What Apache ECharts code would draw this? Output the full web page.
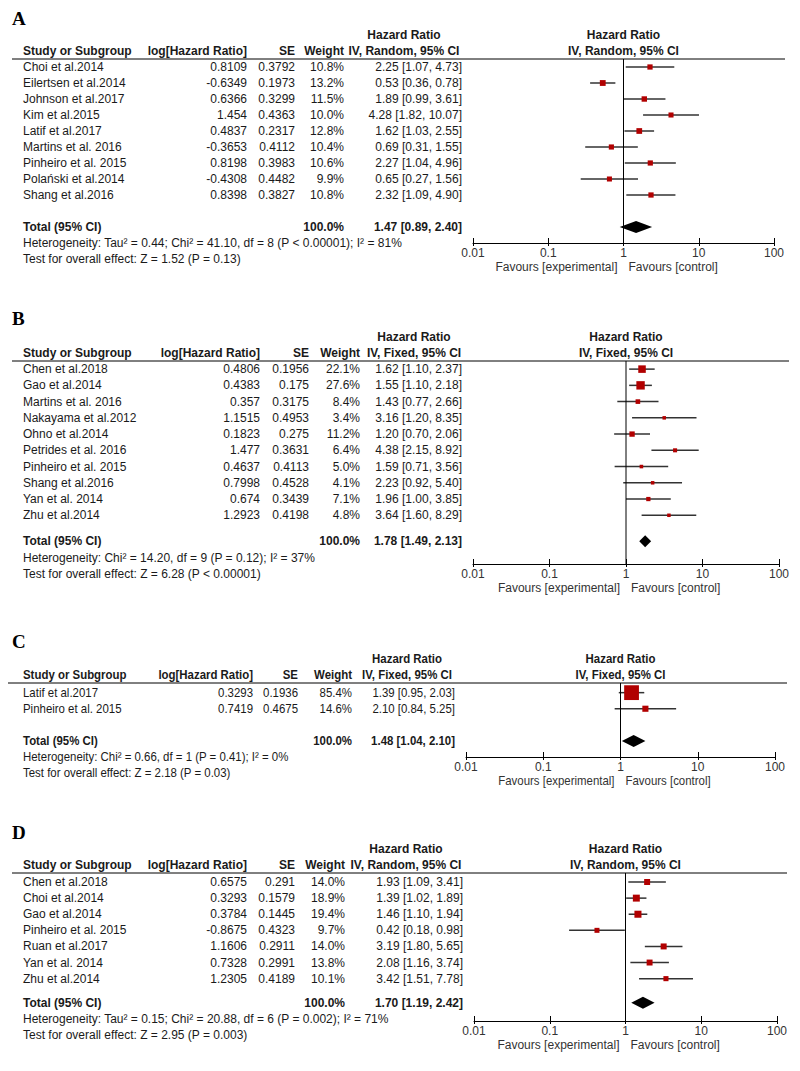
<!DOCTYPE html>
<html>
<head>
<meta charset="utf-8">
<script src="https://cdn.jsdelivr.net/npm/echarts@6/dist/echarts.min.js"></script>
<style>
  html, body { margin: 0; padding: 0; background: #fff; }
  #main { width: 800px; height: 1071px; }
</style>
</head>
<body>
<div id="main"></div>
<script>
// ---- panel A : IV, Random ----
var studiesA = ['Choi et al.2014', 'Eilertsen et al.2014', 'Johnson et al.2017', 'Kim et al.2015', 'Latif et al.2017',
  'Martins et al. 2016', 'Pinheiro et al. 2015', 'Polański et al.2014', 'Shang et al.2016'];
var logHrA = [0.8109, -0.6349, 0.6366, 1.454, 0.4837, -0.3653, 0.8198, -0.4308, 0.8398];
var seA = [0.3792, 0.1973, 0.3299, 0.4363, 0.2317, 0.4112, 0.3983, 0.4482, 0.3827];
var weightA = [10.8, 13.2, 11.5, 10.0, 12.8, 10.4, 10.6, 9.9, 10.8];
var hrA = [2.25, 0.53, 1.89, 4.28, 1.62, 0.69, 2.27, 0.65, 2.32];
var loA = [1.07, 0.36, 0.99, 1.82, 1.03, 0.31, 1.04, 0.27, 1.09];
var hiA = [4.73, 0.78, 3.61, 10.07, 2.55, 1.55, 4.96, 1.56, 4.90];
var totalA = [1.47, 0.89, 2.40];
var hetA = 'Heterogeneity: Tau² = 0.44; Chi² = 41.10, df = 8 (P < 0.00001); I² = 81%';
var testA = 'Test for overall effect: Z = 1.52 (P = 0.13)';

// ---- panel B : IV, Fixed ----
var studiesB = ['Chen et al.2018', 'Gao et al.2014', 'Martins et al. 2016', 'Nakayama et al.2012', 'Ohno et al.2014',
  'Petrides et al. 2016', 'Pinheiro et al. 2015', 'Shang et al.2016', 'Yan et al. 2014', 'Zhu et al.2014'];
var logHrB = [0.4806, 0.4383, 0.357, 1.1515, 0.1823, 1.477, 0.4637, 0.7998, 0.674, 1.2923];
var seB = [0.1956, 0.175, 0.3175, 0.4953, 0.275, 0.3631, 0.4113, 0.4528, 0.3439, 0.4198];
var weightB = [22.1, 27.6, 8.4, 3.4, 11.2, 6.4, 5.0, 4.1, 7.1, 4.8];
var hrB = [1.62, 1.55, 1.43, 3.16, 1.20, 4.38, 1.59, 2.23, 1.96, 3.64];
var loB = [1.10, 1.10, 0.77, 1.20, 0.70, 2.15, 0.71, 0.92, 1.00, 1.60];
var hiB = [2.37, 2.18, 2.66, 8.35, 2.06, 8.92, 3.56, 5.40, 3.85, 8.29];
var totalB = [1.78, 1.49, 2.13];
var hetB = 'Heterogeneity: Chi² = 14.20, df = 9 (P = 0.12); I² = 37%';
var testB = 'Test for overall effect: Z = 6.28 (P < 0.00001)';

// ---- panel C : IV, Fixed ----
var studiesC = ['Latif et al.2017', 'Pinheiro et al. 2015'];
var logHrC = [0.3293, 0.7419];
var seC = [0.1936, 0.4675];
var weightC = [85.4, 14.6];
var hrC = [1.39, 2.10];
var loC = [0.95, 0.84];
var hiC = [2.03, 5.25];
var totalC = [1.48, 1.04, 2.10];
var hetC = 'Heterogeneity: Chi² = 0.66, df = 1 (P = 0.41); I² = 0%';
var testC = 'Test for overall effect: Z = 2.18 (P = 0.03)';

// ---- panel D : IV, Random ----
var studiesD = ['Chen et al.2018', 'Choi et al.2014', 'Gao et al.2014', 'Pinheiro et al. 2015', 'Ruan et al.2017',
  'Yan et al. 2014', 'Zhu et al.2014'];
var logHrD = [0.6575, 0.3293, 0.3784, -0.8675, 1.1606, 0.7328, 1.2305];
var seD = [0.291, 0.1579, 0.1445, 0.4323, 0.2911, 0.2991, 0.4189];
var weightD = [14.0, 18.9, 19.4, 9.7, 14.0, 13.8, 10.1];
var hrD = [1.93, 1.39, 1.46, 0.42, 3.19, 2.08, 3.42];
var loD = [1.09, 1.02, 1.10, 0.18, 1.80, 1.16, 1.51];
var hiD = [3.41, 1.89, 1.94, 0.98, 5.65, 3.74, 7.78];
var totalD = [1.70, 1.19, 2.42];
var hetD = 'Heterogeneity: Tau² = 0.15; Chi² = 20.88, df = 6 (P = 0.002); I² = 71%';
var testD = 'Test for overall effect: Z = 2.95 (P = 0.003)';

var xTickLabels = ['0.01', '0.1', '1', '10', '100'];

// layout of each panel (pixels / row units)
var panels = [
  {label: 'A', labelY: 18, method: 'IV, Random, 95% CI', top: 59, bottom: 243, left: 473, right: 774, lineL: 12, lineR: 785,
    logX: 247, seX: 295, wX: 344, hrX: 462, headX: 404, ymin: -0.5, ymax: 11, totalRow: 10, sx: 1, size: 12,
    studies: studiesA, logHr: logHrA, se: seA, weight: weightA, hr: hrA, lo: loA, hi: hiA, total: totalA, het: hetA, test: testA},
  {label: 'B', labelY: 318, method: 'IV, Fixed, 95% CI', top: 361, bottom: 564, left: 473, right: 779, lineL: 12, lineR: 789,
    logX: 260, seX: 309, wX: 360, hrX: 462, headX: 414, ymin: -0.5, ymax: 12, totalRow: 10.6, sx: 1, size: 12,
    studies: studiesB, logHr: logHrB, se: seB, weight: weightB, hr: hrB, lo: loB, hi: hiB, total: totalB, het: hetB, test: testB},
  {label: 'C', labelY: 641, method: 'IV, Fixed, 95% CI', top: 683, bottom: 757, left: 466, right: 775, lineL: 8, lineR: 787,
    logX: 253, seX: 298, wX: 352, hrX: 455, headX: 407, ymin: -0.6, ymax: 4, totalRow: 3, sx: 0.88, size: 13,
    studies: studiesC, logHr: logHrC, se: seC, weight: weightC, hr: hrC, lo: loC, hi: hiC, total: totalC, het: hetC, test: testC},
  {label: 'D', labelY: 832, method: 'IV, Random, 95% CI', top: 873, bottom: 1021, left: 474, right: 777, lineL: 12, lineR: 787,
    logX: 247, seX: 295, wX: 345, hrX: 463, headX: 406, ymin: -0.56, ymax: 8.63, totalRow: 7.5, sx: 1, size: 12,
    studies: studiesD, logHr: logHrD, se: seD, weight: weightD, hr: hrD, lo: loD, hi: hiD, total: totalD, het: hetD, test: testD}
];

var H = 1071;
var chart = echarts.init(document.getElementById('main'), null, {renderer: 'svg', width: 800, height: H});

function whiskerItem(params, api) {
  var a = api.coord([api.value(0), api.value(2)]);
  var b = api.coord([api.value(1), api.value(2)]);
  return {type: 'line', shape: {x1: a[0], y1: a[1], x2: b[0], y2: b[1]}, style: {stroke: '#333', lineWidth: 1.5}};
}

function diamondItem(params, api) {
  var l = api.coord([api.value(0), api.value(3)]);
  var m = api.coord([api.value(1), api.value(3)]);
  var r = api.coord([api.value(2), api.value(3)]);
  var h = 6;
  return {type: 'polygon', shape: {points: [[l[0], l[1]], [m[0], m[1] - h], [r[0], r[1]], [m[0], m[1] + h]]},
    style: {fill: '#000'}};
}

var grids = [], xAxes = [], yAxes = [], series = [];
panels.forEach(function (p, k) {
  grids.push({left: p.left, width: p.right - p.left, top: p.top, height: p.bottom - p.top});
  // labelled axis, upward half of the ticks
  xAxes.push({
    type: 'log', logBase: 10, min: 0.01, max: 100, splitNumber: 4, gridIndex: k, position: 'bottom',
    axisLine: {onZero: false, lineStyle: {color: '#000', width: 1}},
    axisTick: {inside: true, length: 5, lineStyle: {color: '#000', width: 1}},
    splitLine: {show: false},
    axisLabel: {
      margin: 4, color: '#333', fontFamily: 'Liberation Sans', fontSize: 12,
      formatter: function (v) {
        var i = Math.round(Math.log(v) / Math.LN10) + 2;
        return xTickLabels[i];
      }
    }
  });
  // same scale again, for the short downward half of the ticks
  xAxes.push({
    type: 'log', logBase: 10, min: 0.01, max: 100, splitNumber: 4, gridIndex: k, position: 'bottom', offset: 0,
    axisLine: {show: false, onZero: false}, axisLabel: {show: false}, splitLine: {show: false},
    axisTick: {inside: false, length: 3, lineStyle: {color: '#000', width: 1}}
  });
  yAxes.push({
    type: 'value', gridIndex: k, inverse: true, min: p.ymin, max: p.ymax, show: false,
    axisLine: {show: false}, axisTick: {show: false}, splitLine: {show: false}, axisLabel: {show: false}
  });

  var xi = 2 * k;
  var rows = p.hr.map(function (v, i) { return i; });
  // line of no effect
  series.push({
    type: 'line', xAxisIndex: xi, yAxisIndex: k, silent: true, showSymbol: false, symbol: 'none',
    lineStyle: {color: '#000', width: 1},
    data: [[1, p.ymin], [1, p.ymax]]
  });
  series.push({
    type: 'custom', xAxisIndex: xi, yAxisIndex: k, renderItem: whiskerItem, clip: false, silent: true,
    encode: {x: [0, 1], y: 2},
    data: rows.map(function (i) { return [p.lo[i], p.hi[i], i]; })
  });
  series.push({
    type: 'scatter', xAxisIndex: xi, yAxisIndex: k, symbol: 'rect', silent: true,
    itemStyle: {color: '#b10000', opacity: 1},
    symbolSize: function (v) { return Math.max(3.5, 1.6 * Math.sqrt(v[2])); },
    data: rows.map(function (i) { return [p.hr[i], i, p.weight[i]]; })
  });
  series.push({
    type: 'custom', xAxisIndex: xi, yAxisIndex: k, renderItem: diamondItem, clip: false, silent: true,
    encode: {x: [0, 1, 2], y: 3},
    data: [[p.total[1], p.total[0], p.total[2], p.totalRow]]
  });
});

chart.setOption({
  animation: false,
  grid: grids,
  xAxis: xAxes,
  yAxis: yAxes,
  series: series
});

// table text, placed on the rows of each panel's y axis
var ink = '#1a1a1a';
function txt(x, y, s, p, opts) {
  opts = opts || {};
  var serif = opts.family === 'serif';
  return {
    type: 'text', x: x, y: y, silent: true,
    scaleX: serif ? 1 : p.sx,
    style: {
      text: s, fill: opts.fill || ink,
      font: (opts.bold ? 'bold ' : '') + (opts.size || p.size) + 'px ' +
        (serif ? '"Liberation Serif", "Times New Roman", serif' : '"Liberation Sans", Arial, sans-serif'),
      align: opts.align || 'left', verticalAlign: 'middle'
    }
  };
}
function fmt(v) { return v.toFixed(2); }
function ci(hr, lo, hi) { return fmt(hr) + ' [' + fmt(lo) + ', ' + fmt(hi) + ']'; }

var gfx = [];
panels.forEach(function (p, k) {
  var rowY = function (i) { return chart.convertToPixel({yAxisIndex: k}, i); };
  var mid = chart.convertToPixel({xAxisIndex: 2 * k}, 1);

  gfx.push(txt(12, p.labelY, p.label, p, {family: 'serif', size: 19, bold: true, fill: '#000'}));

  // header
  var h1 = p.top - 24, h2 = p.top - 8;
  gfx.push(txt(p.headX, h1, 'Hazard Ratio', p, {bold: true, align: 'center'}));
  gfx.push(txt(mid, h1, 'Hazard Ratio', p, {bold: true, align: 'center'}));
  gfx.push(txt(23, h2, 'Study or Subgroup', p, {bold: true}));
  gfx.push(txt(p.logX, h2, 'log[Hazard Ratio]', p, {bold: true, align: 'right'}));
  gfx.push(txt(p.seX, h2, 'SE', p, {bold: true, align: 'right'}));
  gfx.push(txt(p.wX, h2, 'Weight', p, {bold: true, align: 'right'}));
  gfx.push(txt(p.headX, h2, p.method, p, {bold: true, align: 'center'}));
  gfx.push(txt(mid, h2, p.method, p, {bold: true, align: 'center'}));
  gfx.push({type: 'line', silent: true, shape: {x1: p.lineL, y1: p.top, x2: p.lineR, y2: p.top},
    style: {stroke: '#000', lineWidth: 1}});

  // study rows
  p.studies.forEach(function (s, i) {
    var y = rowY(i);
    gfx.push(txt(23, y, s, p));
    gfx.push(txt(p.logX, y, String(p.logHr[i]), p, {align: 'right'}));
    gfx.push(txt(p.seX, y, String(p.se[i]), p, {align: 'right'}));
    gfx.push(txt(p.wX, y, p.weight[i].toFixed(1) + '%', p, {align: 'right'}));
    gfx.push(txt(p.hrX, y, ci(p.hr[i], p.lo[i], p.hi[i]), p, {align: 'right'}));
  });

  // total and footnotes
  var yt = rowY(p.totalRow);
  gfx.push(txt(23, yt, 'Total (95% CI)', p, {bold: true}));
  gfx.push(txt(p.wX, yt, '100.0%', p, {bold: true, align: 'right'}));
  gfx.push(txt(p.hrX, yt, ci(p.total[0], p.total[1], p.total[2]), p, {bold: true, align: 'right'}));
  gfx.push(txt(23, rowY(p.totalRow + 1), p.het, p));
  gfx.push(txt(23, rowY(p.totalRow + 2), p.test, p));

  // favours
  var yf = p.bottom + 24;
  gfx.push(txt(mid - 6, yf, 'Favours [experimental]', p, {align: 'right', fill: '#333'}));
  gfx.push(txt(mid + 5, yf, 'Favours [control]', p, {fill: '#333'}));
});

chart.setOption({graphic: gfx});
</script>
</body>
</html>
